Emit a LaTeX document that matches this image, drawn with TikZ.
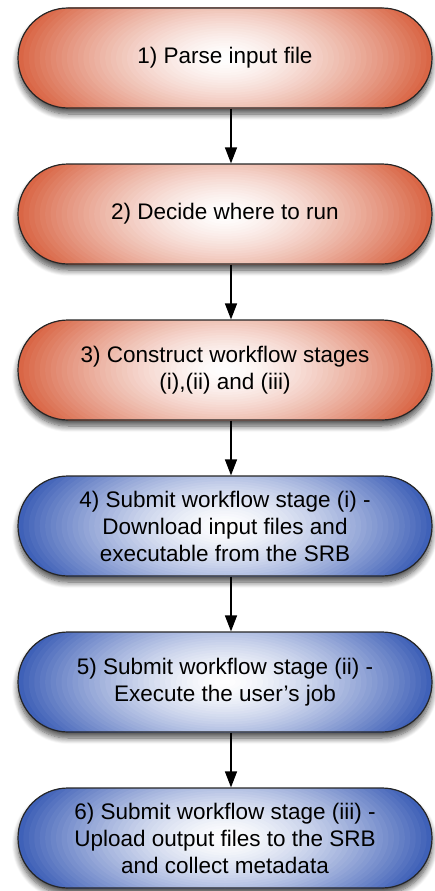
\documentclass[tikz,border=0pt]{standalone}
\usepackage{fontspec}
\setmainfont{Liberation Sans}
\usetikzlibrary{arrows.meta,shadows.blur,calc}
\definecolor{orgC}{RGB}{214,90,55}
\definecolor{bluC}{RGB}{48,84,178}
\begin{document}
\begin{tikzpicture}[x=1pt,y=1pt,
  box/.style={rectangle, rounded corners=50pt, minimum width=414pt, minimum height=100pt,
    draw=black!85, line width=1.2pt, align=center, inner sep=0pt,
    font=\fontsize{22.5}{27}\selectfont,
    blur shadow={shadow xshift=0pt, shadow yshift=-6pt, shadow blur steps=8, shadow blur radius=6pt, shadow opacity=70}},
  glowfill/.style={path picture={
    \fill[#1] (path picture bounding box.south west) rectangle (path picture bounding box.north east);
    \foreach \t in {40,39,...,1} {
      \pgfmathsetmacro\pc{100*(\t/40)^1.5}
      \fill[#1!\pc!white] (path picture bounding box.center) ellipse ({218*\t/40} and {100*\t/40});
    }}},
  orangebox/.style={box, glowfill=orgC},
  bluebox/.style={box, glowfill=bluC},
  arr/.style={line width=1.4pt, -{Triangle[width=12pt,length=16pt]}}]
\useasboundingbox (0,0) rectangle (434,-891);
\node[orangebox] (n1) at (225,-58) {1) Parse input file};
\node[orangebox] (n2) at (225,-214) {2) Decide where to run};
\node[orangebox] (n3) at (225,-370) {3) Construct workflow stages\\(i),(ii) and (iii)};
\node[bluebox] (n4) at (225,-526) {4) Submit workflow stage (i) -\\Download input files and\\executable from the SRB};
\node[bluebox] (n5) at (225,-682) {5) Submit workflow stage (ii) -\\Execute the user's job};
\node[bluebox] (n6) at (225,-838) {6) Submit workflow stage (iii) -\\Upload output files to the SRB\\and collect metadata};
\coordinate (ax) at (231,0);
\draw[arr] (n1.south -| ax) -- (n2.north -| ax);
\draw[arr] (n2.south -| ax) -- (n3.north -| ax);
\draw[arr] (n3.south -| ax) -- (n4.north -| ax);
\draw[arr] (n4.south -| ax) -- (n5.north -| ax);
\draw[arr] (n5.south -| ax) -- (n6.north -| ax);
\end{tikzpicture}
\end{document}
